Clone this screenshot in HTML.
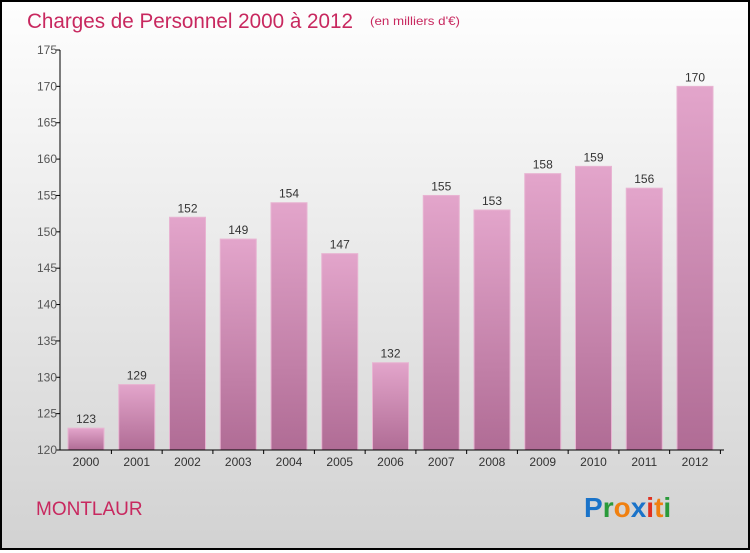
<!DOCTYPE html>
<html><head><meta charset="utf-8"><style>
html,body{margin:0;padding:0}
body{width:750px;height:550px;overflow:hidden;font-family:"Liberation Sans",sans-serif}
#wrap{position:absolute;left:0;top:0;width:746px;height:546px;border:2px solid #000;background:linear-gradient(#fefefe,#d2d2d2)}
</style></head><body>
<div id="wrap">
<svg id="chart" width="746" height="546">
<defs><linearGradient id="bg" x1="0" y1="0" x2="0" y2="1"><stop offset="0" stop-color="#e3a5cb"/><stop offset="1" stop-color="#b06c95"/></linearGradient></defs>
<text x="25" y="26" font-size="21" fill="#c8285f" textLength="326" lengthAdjust="spacingAndGlyphs">Charges de Personnel 2000 à 2012</text>
<text x="368" y="23" font-size="12" fill="#c8285f" textLength="90" lengthAdjust="spacingAndGlyphs">(en milliers d'€)</text>
<text x="34" y="513" font-size="19" fill="#c8285f">MONTLAUR</text>
<g font-size="28" font-weight="bold">
<text x="582" y="515"><tspan fill="#1a73c9">P</tspan><tspan fill="#2a9a3a">r</tspan><tspan fill="#f08010">o</tspan><tspan fill="#1a73c9">x</tspan><tspan fill="#e03020">i</tspan><tspan fill="#f08010">t</tspan><tspan fill="#2a9a3a">i</tspan></text></g>
<g id="plot"></g>
</svg></div>
<script>
const years=["2000","2001","2002","2003","2004","2005","2006","2007","2008","2009","2010","2011","2012"];
const values=[123,129,152,149,154,147,132,155,153,158,159,156,170];
const yTicks=[120,125,130,135,140,145,150,155,160,165,170,175];
const NS="http://www.w3.org/2000/svg";
const g=document.getElementById('plot');
const yMin=120,yMax=175,top0=48,bot=448,ax=58;
const y=v=>bot-(v-yMin)/(yMax-yMin)*(bot-top0);
const x=i=>84+i*50.75;
function mk(t,a){const e=document.createElementNS(NS,t);for(const k in a)e.setAttribute(k,a[k]);g.appendChild(e);return e;}
values.forEach((v,i)=>{
 const r=mk('rect',{x:x(i)-18,y:y(v),width:36,height:bot-y(v),fill:'url(#bg)',stroke:'#e8b4d2','stroke-width':1});
 
 
 const t=mk('text',{x:x(i),y:y(v)-5,'font-size':12,fill:'#333','text-anchor':'middle'});
 t.textContent=v;
 
 
 const xl=mk('text',{x:x(i),y:bot+16,'font-size':12,fill:'#333','text-anchor':'middle'});
 xl.textContent=years[i];
 
 
 mk('line',{x1:x(i)+25.4,x2:x(i)+25.4,y1:bot,y2:bot+4,stroke:'#000'});
});
yTicks.forEach(v=>{
 mk('line',{x1:ax-4,x2:ax,y1:y(v),y2:y(v),stroke:'#000'});
 const t=mk('text',{x:ax-3,y:y(v)+4,'font-size':12,fill:'#555','text-anchor':'end'});
 t.textContent=v;
 
 
});
const ya=mk('line',{x1:ax,x2:ax,y1:top0,y2:bot,stroke:'#000'});


const xa=mk('line',{x1:ax,x2:722,y1:bot,y2:bot,stroke:'#000'});


</script>
</body></html>
